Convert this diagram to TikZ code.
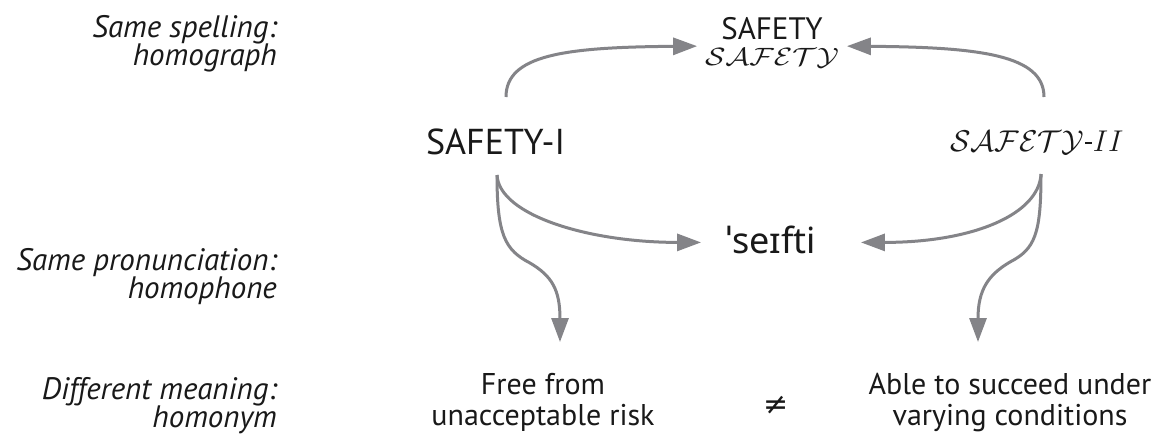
\RequirePackage{fix-cm}
\documentclass[tikz,border=0pt]{standalone}
\usepackage{fontspec}
\setmainfont{PT Sans}
\newfontfamily\ipafont{Noto Sans}
\newfontfamily\symbolfont{DejaVu Sans}
\usetikzlibrary{arrows.meta,calc}

\definecolor{arrowgray}{RGB}{132,132,136}
\definecolor{inkblack}{RGB}{25,25,25}

\tikzset{
  flow/.style={draw=arrowgray, line width=3pt,
    -{Triangle[length=24pt,width=17pt]}},
  word/.style={inner sep=0pt, anchor=base, text=inkblack},
  caption/.style={inner sep=0pt, anchor=base east, text=inkblack,
    font=\fontsize{31}{34}\selectfont\itshape},
  meaning/.style={inner sep=0pt, anchor=north, text=inkblack, align=center,
    font=\fontsize{30}{31}\selectfont}
}

\begin{document}
\begin{tikzpicture}[x=1pt,y=-1pt]
  \useasboundingbox[fill=white] (0,0) rectangle (1157,434);

  % row captions on the left
  \node[caption] (cap1a) at (277,37) {Same spelling:};
  \node[caption] (cap1b) at (277,65) {homograph};
  \node[caption] (cap2a) at (277,270) {Same pronunciation:};
  \node[caption] (cap2b) at (277,298) {homophone};
  \node[caption] (cap3a) at (277,399) {Different meaning:};
  \node[caption] (cap3b) at (277,427) {homonym};

  % the shared spelling
  \node[word, font=\fontsize{31}{34}\selectfont] (top) at (772,39) {SAFETY};
  \node[word, font=\fontsize{25}{28}\selectfont] (topcal) at (772,65)
    {\scalebox{1.2}[1]{$\mathcal{SAFETY}$}};

  % the two readings
  \node[word, font=\fontsize{36}{40}\selectfont] (s1) at (495.5,154) {SAFETY-I};
  \node[word, font=\fontsize{30}{34}\selectfont] (s2) at (1037,151)
    {$\mathcal{SAFETY}$\kern1pt\rule[0.22em]{0.22em}{0.07em}\kern1pt$II$};

  % the shared pronunciation
  \node[word, font=\ipafont\fontsize{36}{40}\selectfont] (ipa) at (771,253) {ˈseɪfti};

  % the two meanings
  \node[meaning] (m1) at (543,373) {Free from\\unacceptable risk};
  \node[meaning] (m2) at (1010,373) {Able to succeed under\\varying conditions};
  \node[word, font=\symbolfont\fontsize{30}{34}\selectfont] (ne) at (776,414) {≠};

  % spelling arrows
  \draw[flow] ([shift={(10.5,-57)}]s1.base)
    .. controls +(0,-42) and +(-133,1) .. ([shift={(-24,18)}]top.west);
  \draw[flow] ([shift={(7,-54)}]s2.base)
    .. controls +(0,-42) and +(133,1) .. ([shift={(24,18)}]top.east);

  % pronunciation arrows
  \draw[flow] ([shift={(1.5,21)}]s1.base)
    .. controls +(2,40) and +(-113,0) .. ([shift={(-25,3)}]ipa.west);
  \draw[flow] ([shift={(4,23)}]s2.base)
    .. controls +(-2,40) and +(113,0) .. ([shift={(45,3)}]ipa.east);

  % meaning arrows
  \draw[flow] ([shift={(1.5,21)}]s1.base)
    .. controls +(0,60) and +(-25,-13) .. ($(s1.base)+(34.5,109)$)
    .. controls +(22,13) and +(0,-52) .. ([shift={(17,-31)}]m1.north);
  \draw[flow] ([shift={(4,23)}]s2.base)
    .. controls +(0,60) and +(25,-13) .. ($(s2.base)+(-27,111)$)
    .. controls +(-22,13) and +(0,-52) .. ([shift={(-32,-31)}]m2.north);
\end{tikzpicture}
\end{document}
